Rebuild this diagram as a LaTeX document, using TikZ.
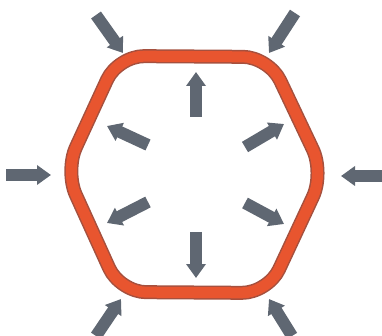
\documentclass[tikz,border=0pt]{standalone}
\usetikzlibrary{arrows.meta}
\definecolor{hexorange}{HTML}{E8552F}
\definecolor{hexedge}{HTML}{A5503E}
\definecolor{arrgray}{HTML}{5F6772}
\tikzset{
  force/.style={draw=arrgray, line width=12pt, -{Triangle[width=19pt,length=14pt]}},
  hexline/.style={line width=#1, rounded corners=26pt, line join=round},
}
\begin{document}
\begin{tikzpicture}[x=1pt,y=-1pt]
\useasboundingbox (0,0) rectangle (382,336);
% hexagon corners
\coordinate (tl) at (118,56);
\coordinate (tr) at (269,57);
\coordinate (r) at (324,173);
\coordinate (br) at (268,293);
\coordinate (bl) at (120,292);
\coordinate (l) at (65,171);
\draw[hexline=14pt, draw=hexedge] (tl) -- (tr) -- (r) -- (br) -- (bl) -- (l) -- cycle;
\draw[hexline=11pt, draw=hexorange] (tl) -- (tr) -- (r) -- (br) -- (bl) -- (l) -- cycle;
% outer arrows (inward)
\coordinate (o1s) at (6,175);   \coordinate (o1e) at (51,175);
\coordinate (o2s) at (384,176); \coordinate (o2e) at (341,176);
\coordinate (o3s) at (96,15);   \coordinate (o3e) at (123,53);
\coordinate (o4s) at (295,13);  \coordinate (o4e) at (269,53);
\coordinate (o5s) at (96,336);  \coordinate (o5e) at (121,299);
\coordinate (o6s) at (292,336); \coordinate (o6e) at (269,299);
\foreach \i in {1,...,6} \draw[force] (o\i s) -- (o\i e);
% inner arrows (outward)
\coordinate (i1s) at (196,117); \coordinate (i1e) at (196,72);
\coordinate (i2s) at (196,232); \coordinate (i2e) at (196,278);
\coordinate (i3s) at (148,145); \coordinate (i3e) at (107,126);
\coordinate (i4s) at (245,147); \coordinate (i4e) at (284,124);
\coordinate (i5s) at (148,202); \coordinate (i5e) at (107,223);
\coordinate (i6s) at (245,203); \coordinate (i6e) at (284,224);
\foreach \i in {1,...,6} \draw[force] (i\i s) -- (i\i e);
\end{tikzpicture}
\end{document}
